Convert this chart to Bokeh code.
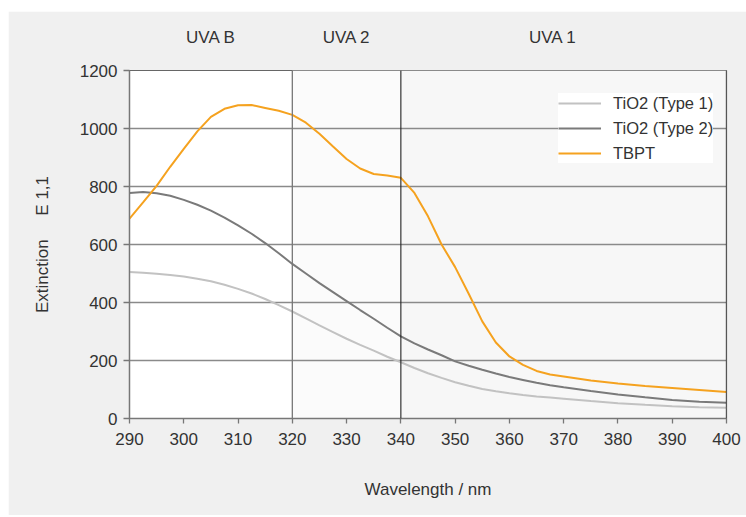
from bokeh.plotting import figure
from bokeh.models import (BoxAnnotation, Span, Legend, LegendItem, FixedTicker,
                          LinearAxis)
from bokeh.embed import file_html
from bokeh.resources import INLINE

# Extinction spectra (E 1,1) against wavelength in nm
wavelength = [290, 292.5, 295, 297.5, 300, 302.5, 305, 307.5, 310, 312.5, 315,
              317.5, 320, 322.5, 325, 327.5, 330, 332.5, 335, 337.5, 340,
              342.5, 345, 347.5, 350, 352.5, 355, 357.5, 360, 362.5, 365,
              367.5, 370, 375, 380, 385, 390, 395, 400]
tio2_type1 = [505, 503, 499, 495, 490, 482, 473, 461, 447, 431, 412,
              391, 369, 345, 321, 298, 275, 254, 234, 213, 194,
              174, 156, 140, 125, 113, 102, 94, 87, 81, 76,
              72, 68, 60, 53, 47, 42, 39, 37]
tio2_type2 = [778, 781, 777, 768, 754, 737, 717, 693, 666, 637, 605,
              570, 533, 500, 467, 436, 405, 374, 344, 313, 283,
              259, 238, 218, 197, 182, 168, 155, 143, 133, 123,
              115, 108, 95, 83, 73, 64, 58, 54]
tbpt = [689, 745, 802, 868, 930, 990, 1040, 1068, 1080, 1081, 1071,
        1061, 1047, 1020, 982, 938, 895, 862, 843, 838, 830,
        778, 697, 600, 522, 430, 335, 262, 214, 185, 164,
        152, 145, 131, 121, 112, 105, 98, 91]

x_ticks = [290, 300, 310, 320, 330, 340, 350, 360, 370, 380, 390, 400]
y_ticks = [0, 200, 400, 600, 800, 1000, 1200]
bands = ["UVA B", "UVA 2", "UVA 1"]
band_centers = [305, 330, 368]
band_edges = [290, 320, 340, 400]

FONT = "Liberation Sans"
TEXT = "#333333"

p = figure(width=738, height=504, output_backend="svg", toolbar_location=None,
           x_range=(290, 400), y_range=(0, 1200),
           min_border_left=121, min_border_right=20, min_border_top=59,
           min_border_bottom=97)
p.margin = (11, 0, 2, 8)
p.border_fill_color = "#f0f0f0"
p.background_fill_color = "white"
p.outline_line_color = "#666666"
p.outline_line_width = 1.2

# shaded bands behind the grid
p.add_layout(BoxAnnotation(left=band_edges[1], right=band_edges[2], fill_color="#fbfbfb",
                           fill_alpha=1, line_color=None, level="image"))
p.add_layout(BoxAnnotation(left=band_edges[2], right=band_edges[3], fill_color="#f7f7f7",
                           fill_alpha=1, line_color=None, level="image"))

p.xgrid.grid_line_color = None
p.ygrid.grid_line_color = "#8a8a8a"
p.ygrid.grid_line_width = 1.5
p.ygrid.level = "underlay"

p.add_layout(Span(location=band_edges[1], dimension="height", line_color="#777777", line_width=1.3))
p.add_layout(Span(location=band_edges[2], dimension="height", line_color="#222222", line_width=1.1))
p.add_layout(Span(location=band_edges[3], dimension="height", line_color="#222222", line_width=1.3))

for ax in (p.xaxis[0], p.yaxis[0]):
    ax.axis_line_color = "#777777"
    ax.axis_line_width = 1.3
    ax.major_tick_line_color = "#777777"
    ax.major_tick_line_width = 1.3
    ax.major_tick_in = 0
    ax.minor_tick_line_color = None
    ax.major_label_text_font = FONT
    ax.major_label_text_font_size = "17px"
    ax.major_label_text_color = TEXT
    ax.axis_label_text_font = FONT
    ax.axis_label_text_font_size = "17px"
    ax.axis_label_text_font_style = "normal"
    ax.axis_label_text_color = TEXT

p.xaxis.ticker = FixedTicker(ticks=x_ticks)
p.yaxis.ticker = FixedTicker(ticks=y_ticks)
p.xaxis.major_tick_out = 5
p.yaxis.major_tick_out = 6
p.xaxis.major_label_standoff = 9
p.yaxis.major_label_standoff = 6
p.xaxis.axis_label = "Wavelength / nm"
p.yaxis.axis_label = "Extinction\u00a0\u00a0\u00a0\u00a0\u00a0E 1,1"
p.xaxis.axis_label_standoff = 32
p.yaxis.axis_label_standoff = 25

# band names along the top edge
top = LinearAxis(ticker=FixedTicker(ticks=band_centers),
                 major_label_overrides=dict(zip(band_centers, bands)),
                 axis_line_color=None, major_tick_line_color=None,
                 minor_tick_line_color=None, major_label_standoff=18,
                 major_label_text_font=FONT, major_label_text_font_size="17px",
                 major_label_text_color=TEXT)
p.add_layout(top, "above")

r1 = p.line(wavelength, tio2_type1, line_color="#c2c2c2", line_width=2)
r2 = p.line(wavelength, tio2_type2, line_color="#7a7a7a", line_width=2)
r3 = p.line(wavelength, tbpt, line_color="#f5a21f", line_width=2)

legend = Legend(items=[LegendItem(label="TiO2 (Type 1)", renderers=[r1]),
                       LegendItem(label="TiO2 (Type 2)", renderers=[r2]),
                       LegendItem(label="TBPT", renderers=[r3])],
                location=(429, 255), orientation="vertical",
                background_fill_color="white", background_fill_alpha=1,
                border_line_color=None, label_text_font=FONT,
                label_text_font_size="16.5px", label_text_color=TEXT,
                glyph_width=43, glyph_height=20, label_height=20,
                spacing=5, padding=9, label_standoff=12, margin=0)
p.add_layout(legend)

with open("out.html", "w") as f:
    f.write(file_html(p, INLINE))
